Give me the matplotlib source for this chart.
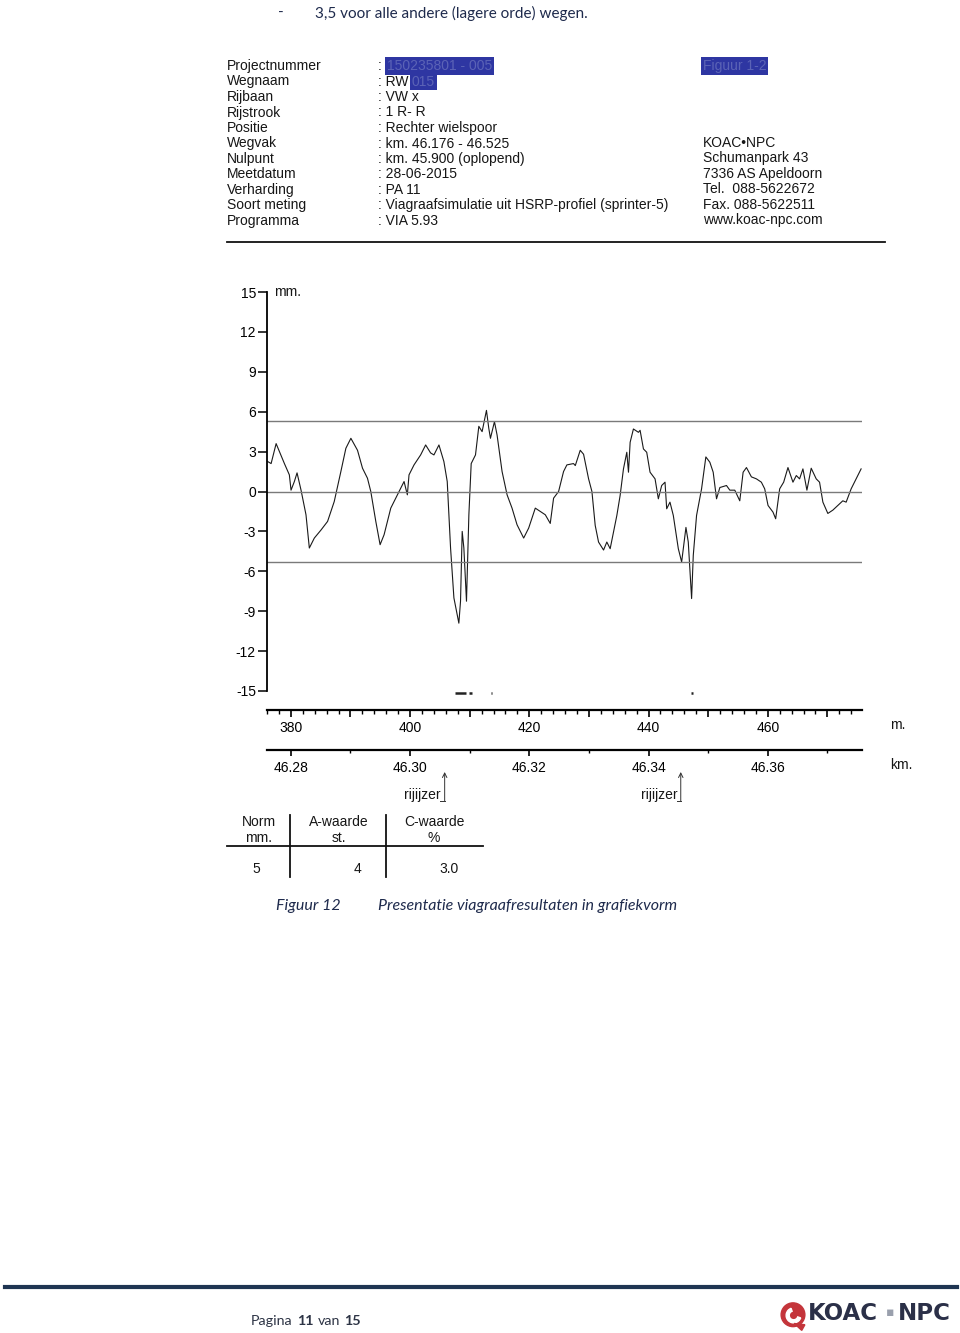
import matplotlib
matplotlib.use("Agg")
import matplotlib.pyplot as plt
from matplotlib.ticker import MultipleLocator, FuncFormatter
from matplotlib.transforms import blended_transform_factory
from matplotlib.patches import Circle, Wedge, Polygon
from matplotlib.lines import Line2D

plt.rcParams["axes.unicode_minus"] = False

W, H = 960, 1333
ARIAL = "Liberation Sans"
REPORT = "Lato"
NAVY = "#1e2a4c"

# --- header block ---
header_labels = ["Projectnummer", "Wegnaam", "Rijbaan", "Rijstrook", "Positie", "Wegvak",
                 "Nulpunt", "Meetdatum", "Verharding", "Soort meting", "Programma"]
header_values = [": ", ": RW", ": VW x", ": 1 R- R", ": Rechter wielspoor",
                 ": km. 46.176 - 46.525", ": km. 45.900 (oplopend)", ": 28-06-2015",
                 ": PA 11", ": Viagraafsimulatie uit HSRP-profiel (sprinter-5)", ": VIA 5.93"]
redacted = {0: "150235801 - 005", 1: "015"}
address = ["KOAC\u2022NPC", "Schumanpark 43", "7336 AS Apeldoorn", "Tel.  088-5622672",
           "Fax. 088-5622511", "www.koac-npc.com"]

# --- viagraaf trace (distance in m, deviation in mm) ---
dist_m = [376.13, 376.69, 377.53, 378.08, 378.92, 379.75, 380.03, 380.59, 381.04, 381.71,
          381.98, 382.54, 383.10, 383.94, 385.05, 386.16, 387.28, 388.39, 389.23, 390.07,
          391.18, 392.02, 392.85, 393.41, 394.25, 394.97, 395.64, 396.76, 397.87, 398.99,
          399.54, 399.82, 400.66, 401.77, 402.61, 403.44, 404.00, 404.84, 405.67, 406.23,
          406.79, 407.35, 408.18, 408.46, 408.74, 409.02, 409.46, 409.86, 410.25, 410.97,
          411.53, 412.08, 412.81, 413.20, 413.48, 414.15, 414.59, 415.43, 416.27, 417.10,
          417.94, 419.05, 419.89, 421.00, 421.84, 422.68, 423.51, 424.07, 424.91, 425.74,
          426.30, 427.41, 427.71, 428.54, 429.10, 429.94, 430.50, 431.05, 431.61, 432.45,
          433.00, 433.56, 434.12, 434.68, 435.23, 435.79, 436.35, 436.63, 436.91, 437.46,
          438.30, 438.58, 439.14, 439.69, 440.25, 441.09, 441.64, 442.20, 442.76, 443.04,
          443.59, 444.15, 444.99, 445.55, 446.27, 446.66, 447.22, 447.50, 448.05, 448.89,
          449.61, 450.28, 450.84, 451.40, 451.96, 453.07, 453.63, 454.46, 455.30, 455.86,
          456.42, 457.25, 458.09, 458.92, 459.48, 460.04, 460.87, 461.32, 461.99, 462.66,
          463.38, 464.22, 464.78, 465.33, 465.89, 466.56, 467.28, 468.12, 468.68, 469.24,
          470.07, 470.91, 471.74, 472.58, 473.14, 473.98, 474.81, 475.65]
dev_mm = [2.25, 2.1, 3.6, 3.0, 2.1, 1.25, 0.1, 0.75, 1.4, 0.1,
          -0.5, -1.75, -4.25, -3.5, -2.9, -2.25, -0.75, 1.5, 3.25, 4.0,
          3.1, 1.75, 1.0, 0.0, -2.25, -4.0, -3.25, -1.25, -0.25, 0.75,
          -0.25, 1.25, 2.0, 2.75, 3.5, 2.9, 2.75, 3.5, 2.25, 0.75,
          -4.25, -8.0, -9.9, -8.25, -3.0, -4.25, -8.25, -1.75, 2.1, 2.75,
          4.9, 4.5, 6.1, 4.75, 4.0, 5.25, 4.25, 1.5, -0.25, -1.25,
          -2.5, -3.5, -2.75, -1.25, -1.5, -1.75, -2.4, -0.5, 0.0, 1.5,
          2.0, 2.1, 1.95, 3.1, 2.8, 0.95, 0.0, -2.55, -3.8, -4.4,
          -3.8, -4.3, -3.05, -1.8, -0.3, 1.7, 2.95, 1.45, 3.7, 4.7,
          4.45, 4.6, 3.2, 2.95, 1.45, 0.95, -0.55, 0.45, 0.7, -1.3,
          -0.8, -1.8, -4.3, -5.3, -2.7, -3.8, -8.05, -4.8, -1.8, 0.2,
          2.6, 2.2, 1.45, -0.55, 0.3, 0.45, 0.1, 0.1, -0.7, 1.45,
          1.8, 1.1, 0.95, 0.7, 0.2, -1.05, -1.55, -2.05, 0.2, 0.7,
          1.8, 0.7, 1.2, 0.95, 1.7, 0.1, 1.75, 0.95, 0.7, -0.8,
          -1.65, -1.4, -1.05, -0.7, -0.8, 0.2, 0.95, 1.7]

norm_mm = 5.3
y_ticks = [15, 12, 9, 6, 3, 0, -3, -6, -9, -12, -15]
x_range = (376.0, 475.8)
nulpunt_m = 45900
rijijzer_m = [405.8, 445.4]
marks_m = [(407.6, 409.3), (409.8, 410.4), (413.5, 413.8), (447.1, 447.4)]

table_heads = [("Norm", "mm."), ("A-waarde", "st."), ("C-waarde", "%")]
norm_value, a_value, c_value = 5, 4, 3.0


def fx(px):
    return px / W


def fy(py):
    return 1 - py / H


fig = plt.figure(figsize=(W / 100, H / 100), dpi=100)
fig.patch.set_facecolor("white")


def hline(x0, x1, y, **kw):
    fig.add_artist(Line2D([fx(x0), fx(x1)], [fy(y), fy(y)], transform=fig.transFigure, **kw))


def vline(x, y0, y1, **kw):
    fig.add_artist(Line2D([fx(x), fx(x)], [fy(y0), fy(y1)], transform=fig.transFigure, **kw))


# top line of report text
fig.text(fx(278), fy(13), "-", family=REPORT, fontsize=11, color=NAVY, va="center")
fig.text(fx(315), fy(13), "3,5 voor alle andere (lagere orde) wegen.", family=REPORT,
         fontsize=11, color=NAVY, va="center")

# header
txt = dict(family=ARIAL, fontsize=10, color="#161616", va="center")
blue_box = dict(boxstyle="square,pad=0.12", facecolor="#2e36a2", edgecolor="none")
for i, (lab, val) in enumerate(zip(header_labels, header_values)):
    y = fy(66 + i * 15.5)
    fig.text(fx(227), y, lab, **txt)
    fig.text(fx(378), y, val, **txt)
    if i in redacted:
        fig.text(fx(387 if i == 0 else 412), y, redacted[i], family=ARIAL, fontsize=10,
                 color="#5b63b6", va="center", bbox=blue_box)
fig.text(fx(703), fy(66), "Figuur 1-2", family=ARIAL, fontsize=10, color="#5b63b6",
         va="center", bbox=blue_box)
for i, line in enumerate(address):
    fig.text(fx(703), fy(143 + i * 15.4), line, **txt)
hline(227, 885, 242, color="#111111", lw=1.3)

# main chart
ax = fig.add_axes([fx(267), fy(691), fx(862) - fx(267), (691 - 292) / H])
ax.plot(dist_m, dev_mm, color="#1a1a1a", lw=0.8)
for lvl in (norm_mm, 0, -norm_mm):
    ax.axhline(lvl, color="#7a7a7a", lw=1.0)
for a, b in marks_m:
    ax.plot([a, b], [-15.15, -15.15], color="#222222", lw=1.8, clip_on=False,
            solid_capstyle="butt")
ax.set_xlim(*x_range)
ax.set_ylim(-15, 15)
ax.set_yticks(y_ticks)
ax.set_xticks([])
for s in ("top", "right", "bottom"):
    ax.spines[s].set_visible(False)
ax.spines["left"].set_linewidth(1.3)
ax.tick_params(axis="y", length=6.5, width=1.1, pad=1.5, labelsize=10)
for lab in ax.get_yticklabels():
    lab.set_family(ARIAL)
fig.text(fx(274), fy(292), "mm.", **txt)

# meter and km rulers
axm = fig.add_axes([fx(267), fy(710), fx(862) - fx(267), 1e-4])
axk = fig.add_axes([fx(267), fy(750), fx(862) - fx(267), 1e-4])
for r in (axm, axk):
    r.set_xlim(*x_range)
    r.set_yticks([])
    for s in ("top", "right", "left"):
        r.spines[s].set_visible(False)
    r.spines["bottom"].set_linewidth(1.6)
    r.patch.set_visible(False)
axm.xaxis.set_major_locator(MultipleLocator(10))
axm.xaxis.set_minor_locator(MultipleLocator(2))
axm.xaxis.set_major_formatter(FuncFormatter(lambda v, p: f"{v:.0f}" if round(v) % 20 == 0 else ""))
axm.tick_params(axis="x", which="major", length=5, width=1.2, pad=3, labelsize=10)
axm.tick_params(axis="x", which="minor", length=3, width=1.0)

axk.xaxis.set_major_locator(MultipleLocator(20))
axk.xaxis.set_minor_locator(MultipleLocator(10))
axk.xaxis.set_major_formatter(FuncFormatter(lambda v, p: f"{(nulpunt_m + v) / 1000:.2f}"))
axk.tick_params(axis="x", which="major", length=4.5, width=1.2, pad=3.5, labelsize=10)
axk.tick_params(axis="x", which="minor", length=2.5, width=1.0)
for r in (axm, axk):
    for lab in r.get_xticklabels():
        lab.set_family(ARIAL)
fig.text(fx(890), fy(725), "m.", **txt)
fig.text(fx(890), fy(765), "km.", **txt)

# rijijzer markers
trans = blended_transform_factory(axk.transData, fig.transFigure)
for pos in rijijzer_m:
    axk.annotate("", xy=(pos, fy(772)), xytext=(pos, fy(801)), xycoords=trans,
                 textcoords=trans, annotation_clip=False,
                 arrowprops=dict(arrowstyle="->", lw=0.7, color="#333333",
                                 shrinkA=0, shrinkB=0, mutation_scale=8))
    fig.add_artist(Line2D([pos - 0.7, pos], [fy(801), fy(801)], transform=trans,
                          color="#333333", lw=0.7))
    fig.text(pos - 0.6, fy(795), "rijijzer", transform=trans, ha="right",
             family=ARIAL, fontsize=10, color="#161616", va="center")

# norm table
for (h1, h2), cx in zip(table_heads, (259, 339, 434)):
    fig.text(fx(cx), fy(822), h1, ha="center", **txt)
    fig.text(fx(cx), fy(838), h2, ha="center", **txt)
vline(290, 815, 877, color="#111111", lw=1.3)
vline(386, 815, 877, color="#111111", lw=1.3)
hline(227, 483, 846, color="#111111", lw=1.3)
fig.text(fx(256), fy(869), f"{norm_value}", ha="center", **txt)
fig.text(fx(358), fy(869), f"{a_value}", ha="center", **txt)
fig.text(fx(449), fy(869), f"{c_value:.1f}", ha="center", **txt)

# caption
fig.text(fx(276), fy(906), "Figuur 12", family=REPORT, fontsize=11.5, style="italic",
         color=NAVY, va="center")
fig.text(fx(378), fy(906), "Presentatie viagraafresultaten in grafiekvorm", family=REPORT,
         fontsize=11.5, style="italic", color=NAVY, va="center")

# footer
hline(5, 957, 1287, color="#1f3552", lw=3)
foot = dict(family=REPORT, fontsize=10.3, color="#2d3445", va="bottom")
t = fig.text(fx(251), fy(1327), "Pagina", **foot)
for part, bold in (("11", True), ("van", False), ("15", True)):
    t = ax.annotate(part, xy=(1, 0), xycoords=t, xytext=(3, 0), textcoords="offset points",
                    fontweight="bold" if bold else "normal", annotation_clip=False, **foot)

logo = fig.add_axes([fx(778), fy(1331), 30 / W, 30 / H])
logo.set_xlim(-1.2, 1.2)
logo.set_ylim(-1.2, 1.2)
logo.set_aspect("equal")
logo.axis("off")
logo.add_patch(Circle((0, 0.1), 0.95, color="#c4353b"))
logo.add_patch(Wedge((0.05, 0.05), 0.6, 110, 340, width=0.25, color="white"))
logo.add_patch(Polygon([[0.1, -0.6], [0.7, -1.15], [0.95, -0.7]], color="#c4353b"))
fig.text(fx(808), fy(1313), "KOAC", family="DejaVu Sans", fontsize=16.5, fontweight="bold",
         color="#2b3048", va="center")
fig.text(fx(890), fy(1313), "\u25aa", family="DejaVu Sans", fontsize=9, color="#9aa0ad",
         va="center", ha="center")
fig.text(fx(898), fy(1313), "NPC", family="DejaVu Sans", fontsize=16.5, fontweight="bold",
         color="#2b3048", va="center")

fig.savefig("out.png", dpi=100)
